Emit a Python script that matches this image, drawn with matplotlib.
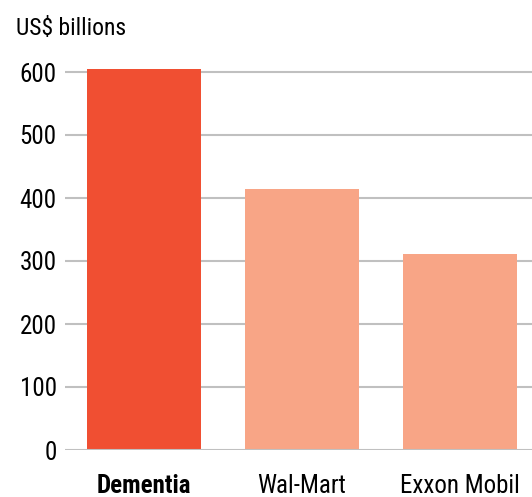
import matplotlib
matplotlib.use("Agg")
import matplotlib.pyplot as plt

categories = ["Dementia", "Wal-Mart", "Exxon Mobil"]
values = [604, 414, 311]
yticks = [0, 100, 200, 300, 400, 500, 600]
colors = ["#f04f32", "#f8a586", "#f8a586"]

plt.rcParams['font.family'] = ['Roboto Condensed', 'DejaVu Sans']

W, H = 532, 497
fig = plt.figure(figsize=(W/100, H/100), dpi=100)
left, right, top, bottom = 65, 532, 60, 450
ax = fig.add_axes([left/W, 1-bottom/H, (right-left)/W, (bottom-top)/H])

x = list(range(len(categories)))
ax.bar(x, values, width=0.72, color=colors, zorder=3)
ax.set_xlim(-0.50, 2.456)
ax.set_ylim(0, (bottom-top)/0.63)
ax.set_yticks(yticks)
ax.set_yticklabels([str(t) for t in yticks], fontsize=18)
for t in yticks:
    ax.axhline(t, color="#c0c0c0", lw=1.5, zorder=2 if t else 4)
ax.set_xticks(x)
ax.set_xticklabels(categories, fontsize=18)
ax.get_xticklabels()[0].set_fontweight("bold")
ax.tick_params(axis='both', length=0)
ax.tick_params(axis='y', pad=6)
ax.tick_params(axis='x', pad=17)
for s in ax.spines.values():
    s.set_visible(False)

fig.text(16/W, 1-17/H, "US$ billions", fontsize=17, ha="left", va="top")
fig.savefig("out.png", dpi=100)
